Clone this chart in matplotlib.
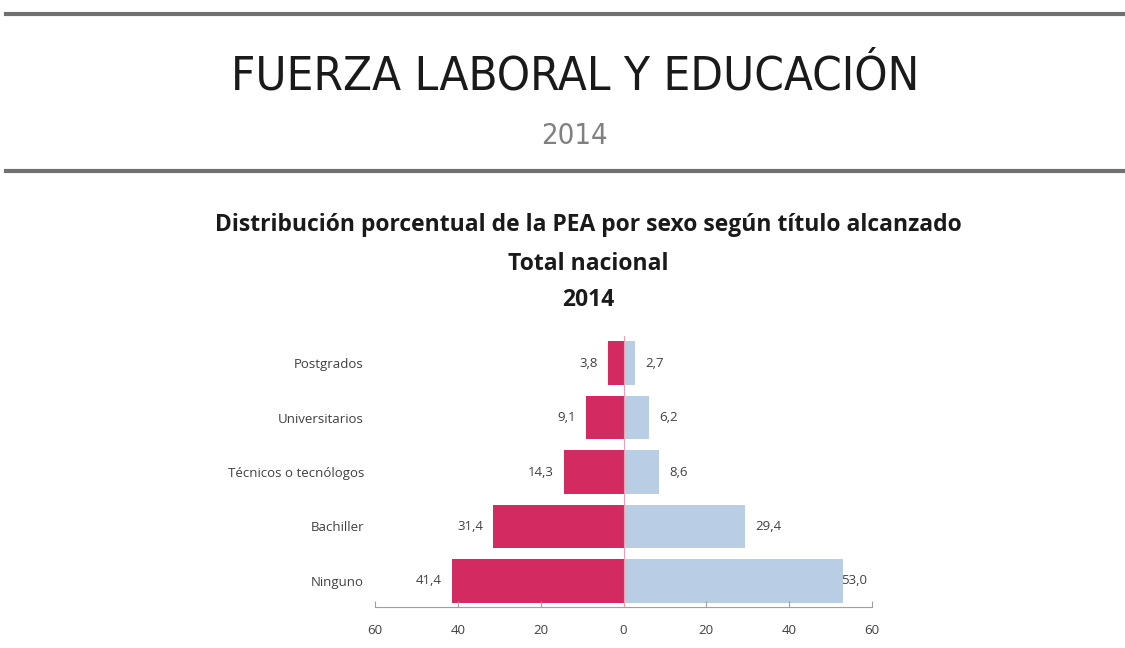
import matplotlib.pyplot as plt
from matplotlib.lines import Line2D

categorias = ['Ninguno', 'Bachiller', 'Técnicos o tecnólogos', 'Universitarios', 'Postgrados']
mujeres = [41.4, 31.4, 14.3, 9.1, 3.8]
hombres = [53.0, 29.4, 8.6, 6.2, 2.7]
ticks = [-60, -40, -20, 0, 20, 40, 60]

COL_M = '#D42A62'
COL_H = '#B9CDE5'

fig = plt.figure(figsize=(11.25, 6.48), dpi=100)

# cabecera
fig.add_artist(Line2D([0.005, 1.0], [1 - 14 / 648] * 2, color='#707070', lw=3))
fig.add_artist(Line2D([0.005, 1.0], [1 - 171 / 648] * 2, color='#707070', lw=3))
fig.text(0.511, 1 - 77 / 648, 'FUERZA LABORAL Y EDUCACIÓN', ha='center', va='center',
         fontsize=34, family='DejaVu Sans', stretch='condensed', color='#1a1a1a')
fig.text(0.511, 1 - 136 / 648, '2014', ha='center', va='center',
         fontsize=21, family='DejaVu Sans', stretch='condensed', color='#808080')

for txt, yy in [('Distribución porcentual de la PEA por sexo según título alcanzado', 225),
                ('Total nacional', 264), ('2014', 300)]:
    fig.text(0.523, 1 - yy / 648, txt, ha='center', va='center', fontsize=16.5,
             fontweight='bold', family='Open Sans', color='#1a1a1a')

ax = fig.add_axes([375 / 1125, 1 - 607 / 648, 497 / 1125, 271 / 648])
y = range(len(categorias))
ax.barh(y, [-v for v in mujeres], height=0.8, color=COL_M)
ax.barh(y, hombres, height=0.8, color=COL_H)
ax.axvline(0, color='#E8A0B4', lw=0.8)

for i, (m, h) in enumerate(zip(mujeres, hombres)):
    ax.text(-m - 2.5, i, f'{m:.1f}'.replace('.', ','), ha='right', va='center',
            fontsize=9.5, color='#404040', family='Open Sans')
    ax.text(h + 2.5 if h < 50 else h - 0.5, i, f'{h:.1f}'.replace('.', ','), ha='left',
            va='center', fontsize=9.5, color='#404040', family='Open Sans')

ax.set_xlim(-60, 60)
ax.set_ylim(-0.48, 4.5)
ax.set_yticks(list(y))
ax.set_yticklabels(categorias, fontsize=9.5, color='#404040', family='Open Sans')
ax.set_xticks(ticks)
ax.set_xticklabels([str(abs(t)) for t in ticks], fontsize=9.5, color='#404040', family='Open Sans')
ax.tick_params(axis='y', length=0, pad=8)
ax.tick_params(axis='x', length=4, direction='in', color='#A0A0A0', pad=12)
for s in ['left', 'right', 'top']:
    ax.spines[s].set_visible(False)
ax.spines['bottom'].set_color('#A0A0A0')

fig.savefig('out.png', dpi=100)
